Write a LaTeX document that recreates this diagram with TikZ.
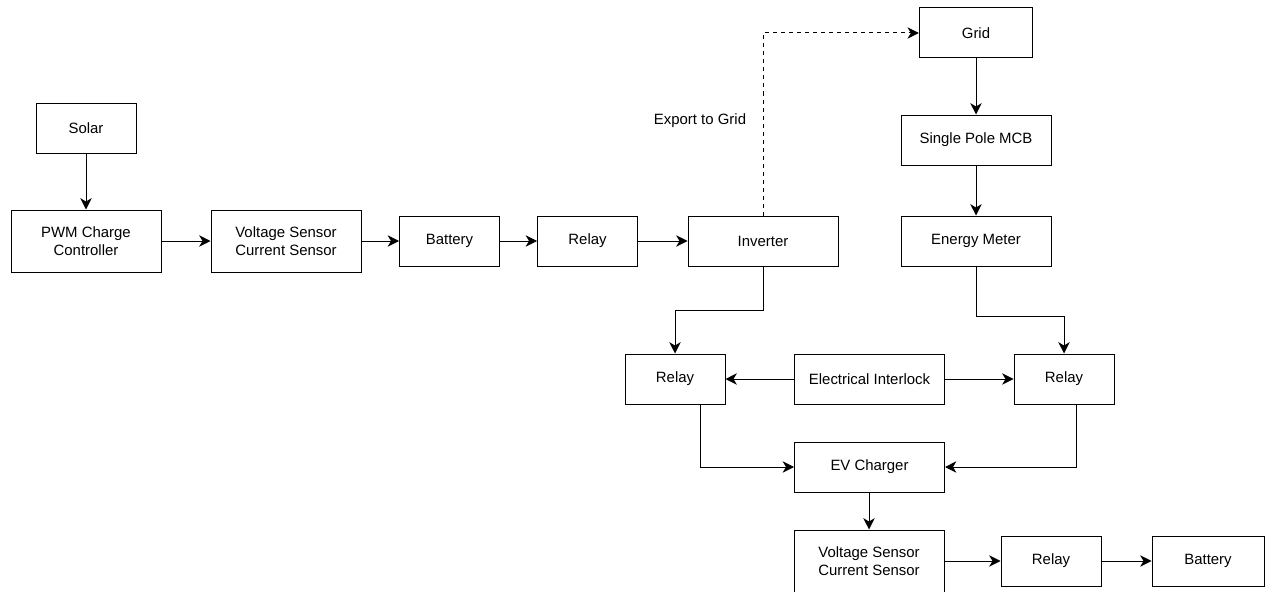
\documentclass[tikz,border=0pt]{standalone}
\usepackage{fontspec}
\setmainfont{Liberation Sans}
\usetikzlibrary{arrows.meta}
\begin{document}
\begin{tikzpicture}[x=0.75pt,y=-0.75pt,line width=0.75pt,
  blk/.style={draw,minimum width=75pt,minimum height=37.5pt,inner sep=0pt,align=center,font=\fontsize{11.2}{13.5}\selectfont},
  wide/.style={blk,minimum width=112.5pt},
  tall/.style={wide,minimum height=46.5pt},
  arr/.style={-{Stealth[length=8.5pt,width=8.5pt,inset=2.5pt]}}]
  \useasboundingbox (0,0) rectangle (1270,592);
  % top row
  \node[blk] (solar) at (86,128) {Solar};
  \node[tall] (pwm) at (86,241) {PWM Charge\\Controller};
  \node[tall] (vsA) at (286,241) {Voltage Sensor\\Current Sensor};
  \node[blk] (batA) at (449.5,241) {Battery};
  \node[blk] (rlyA) at (587.5,241) {Relay};
  \node[wide] (inv) at (763,241) {Inverter};
  % grid side
  \node[blk,minimum width=85pt] (grid) at (976,33) {Grid};
  \node[wide] (mcb) at (976,140) {Single Pole MCB};
  \node[wide] (meter) at (976,241) {Energy Meter};
  \node[font=\fontsize{11.2}{13.5}\selectfont] (exp) at (700,121) {Export to Grid};
  % middle
  \node[blk] (rlyL) at (675,379) {Relay};
  \node[wide] (lock) at (869.5,379) {Electrical Interlock};
  \node[blk] (rlyR) at (1064,379) {Relay};
  \node[wide] (ev) at (869.5,467) {EV Charger};
  % bottom row
  \node[tall] (vsB) at (869,561) {Voltage Sensor\\Current Sensor};
  \node[blk] (rlyB) at (1051,561) {Relay};
  \node[blk,minimum width=84pt] (batB) at (1208,561) {Battery};

  \draw[arr] (solar) -- (pwm);
  \draw[arr] (pwm) -- (vsA);
  \draw[arr] (vsA) -- (batA);
  \draw[arr] (batA) -- (rlyA);
  \draw[arr] (rlyA) -- (inv);
  \draw[arr,dashed] (inv.north) |- (grid.west);
  \draw[arr] (grid) -- (mcb);
  \draw[arr] (mcb) -- (meter);
  \draw[arr] (inv.south) -- (inv.south |- 0,310) -| (rlyL.north);
  \draw[arr] (meter.south) -- (meter.south |- 0,316) -| (rlyR.north);
  \draw[arr] (lock) -- (rlyL);
  \draw[arr] (lock) -- (rlyR);
  \draw[arr] ([xshift=18.75pt]rlyL.south) |- (ev.west);
  \draw[arr] ([xshift=9pt]rlyR.south) |- (ev.east);
  \draw[arr] (ev.south -| vsB) -- (vsB);
  \draw[arr] (vsB) -- (rlyB);
  \draw[arr] (rlyB) -- (batB);
\end{tikzpicture}
\end{document}
